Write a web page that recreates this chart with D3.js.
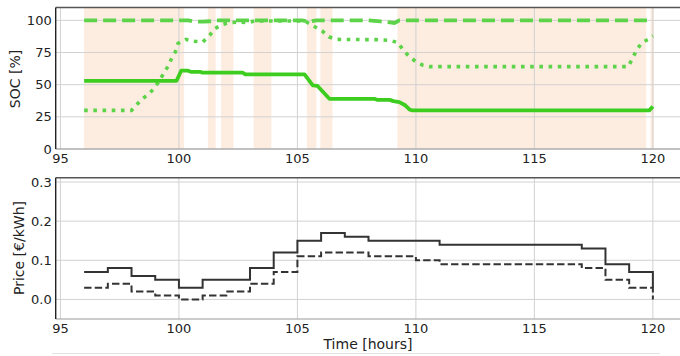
<!DOCTYPE html>
<html>
<head>
<meta charset="utf-8">
<script src="https://cdn.jsdelivr.net/npm/d3@7"></script>
<style>
  html, body { margin: 0; padding: 0; background: #fff; }
  svg { display: block; font-family: "DejaVu Sans", sans-serif; }
</style>
</head>
<body>
<svg id="chart" width="680" height="356"></svg>
<script>
// shaded intervals (hours)
const bandStart = [96.0, 101.22, 101.78, 103.15, 105.4, 105.97, 109.22, 119.9];
const bandEnd   = [100.22, 101.55, 102.3, 103.9, 105.8, 106.48, 119.72, 120.05];

// SOC series: solid
const socTime = [96, 99.9, 100.1, 100.35, 100.5, 100.9, 101.0, 102.7, 102.8, 105.3, 105.65, 105.85, 106.35,
                 108.25, 108.35, 108.9, 109.05, 109.3, 109.55, 109.75, 109.85, 119.85, 120];
const socVal  = [53, 53, 61, 61, 60, 60, 59.3, 59.3, 58, 58, 49.5, 49, 39,
                 39, 38.3, 38.2, 37.2, 36.5, 34, 30.5, 30, 30, 33];

// SOC upper bound: dashed
const maxTime = [96, 100.4, 100.6, 101.0, 101.3, 101.6, 105.2, 105.5, 105.8, 108.0, 108.5, 108.9, 109.1, 109.3, 120];
const maxVal  = [100, 100, 99.2, 99, 99.3, 100, 100, 99, 100, 100, 99.2, 98.5, 98, 100, 100];

// SOC lower bound: dotted
const minTime = [96, 98, 98.13, 98.41, 98.69, 98.93, 99.16, 99.35, 99.54, 99.68, 99.85, 99.96, 100.3, 100.66,
                 101.0, 101.3, 101.5, 101.86, 102.14, 102.5, 102.87, 103.2, 105.2, 105.38, 105.73, 106.05,
                 106.33, 106.65, 108.3, 108.9, 109.25, 109.46, 109.74, 109.99, 110.3, 110.6, 118.96, 119.15,
                 119.31, 119.53, 119.8, 120];
const minVal  = [30, 30, 32.6, 38.3, 42.2, 46.6, 52.6, 58.6, 64.3, 70, 75.5, 82, 85.2, 83.8,
                 83.1, 88.3, 93.5, 96.9, 98.2, 98.7, 98.2, 99.5, 99.5, 98.7, 95, 91.7,
                 87.2, 85.2, 85, 84.5, 82.6, 76.8, 71.6, 68, 65.1, 64, 64, 70.8,
                 76.8, 82.6, 85.2, 88];

// hourly prices
const priceHours = d3.range(96, 121);
const buyPrice  = [0.07, 0.08, 0.06, 0.05, 0.03, 0.05, 0.05, 0.08, 0.12, 0.15, 0.17, 0.16, 0.15,
                   0.15, 0.15, 0.14, 0.14, 0.14, 0.14, 0.14, 0.14, 0.13, 0.09, 0.07, 0.03];
const sellPrice = [0.03, 0.04, 0.02, 0.01, 0.00, 0.01, 0.02, 0.04, 0.07, 0.11, 0.12, 0.12, 0.11,
                   0.11, 0.10, 0.09, 0.09, 0.09, 0.09, 0.09, 0.09, 0.08, 0.05, 0.03, 0.00];

const xTicks = [95, 100, 105, 110, 115, 120];
const socTicks = [0, 25, 50, 75, 100];
const priceTicks = [0.0, 0.1, 0.2, 0.3];

const svg = d3.select('#chart');
const left = 55.7, right = 681.3;
const green = '#3dcd1f', lightGreen = '#5cd348';
const gridColor = '#d2d2d2';

const x = d3.scaleLinear().domain([94.8, 121.2]).range([left, right]);
const ySoc = d3.scaleLinear().domain([0, 110]).range([149, 7.5]);
const yPrice = d3.scaleLinear().domain([-0.05, 0.311]).range([319, 177.7]);

function drawGrid(y, ticks, fmt, top, bottom) {
    const g = svg.append('g');
    // horizontal grid
    g.selectAll('.hg').data(ticks).enter().append('line')
        .attr('x1', left).attr('x2', right)
        .attr('y1', d => y(d)).attr('y2', d => y(d))
        .attr('stroke', gridColor).attr('stroke-width', 1);
    // vertical grid
    g.selectAll('.vg').data(xTicks).enter().append('line')
        .attr('x1', d => x(d)).attr('x2', d => x(d))
        .attr('y1', top).attr('y2', bottom)
        .attr('stroke', gridColor).attr('stroke-width', 1);
    // y tick labels
    g.selectAll('.yl').data(ticks).enter().append('text')
        .attr('x', left - 4).attr('y', d => y(d))
        .attr('text-anchor', 'end').attr('dominant-baseline', 'central')
        .attr('font-size', '13px').attr('fill', '#222')
        .text(fmt);
    // x tick labels
    g.selectAll('.xl').data(xTicks).enter().append('text')
        .attr('x', d => x(d)).attr('y', bottom + 14)
        .attr('text-anchor', 'middle')
        .attr('font-size', '13px').attr('fill', '#222')
        .text(d => d);
}

function drawSpines(top, bottom) {
    svg.append('line').attr('x1', left).attr('x2', right).attr('y1', top).attr('y2', top)
        .attr('stroke', '#555').attr('stroke-width', 1.4);
    svg.append('line').attr('x1', left).attr('x2', right).attr('y1', bottom).attr('y2', bottom)
        .attr('stroke', '#999').attr('stroke-width', 1.2);
    svg.append('line').attr('x1', left).attr('x2', left).attr('y1', top).attr('y2', bottom)
        .attr('stroke', '#222').attr('stroke-width', 1.4);
}

// ---- top panel: SOC ----
svg.append('g').selectAll('rect').data(bandStart).enter().append('rect')
    .attr('x', (d, i) => x(d))
    .attr('width', (d, i) => x(bandEnd[i]) - x(d))
    .attr('y', 7.5).attr('height', 149 - 7.5)
    .attr('fill', '#fdece0');

drawGrid(ySoc, socTicks, d => d, 7.5, 149);

const socLine = d3.line().x(d => x(d[0])).y(d => ySoc(d[1]));

svg.append('path').datum(d3.zip(maxTime, maxVal))
    .attr('d', socLine).attr('fill', 'none')
    .attr('stroke', lightGreen).attr('stroke-width', 3.8)
    .attr('stroke-dasharray', '13,6');

svg.append('path').datum(d3.zip(minTime, minVal))
    .attr('d', socLine).attr('fill', 'none')
    .attr('stroke', lightGreen).attr('stroke-width', 3.6)
    .attr('stroke-dasharray', '3.6,5.6');

svg.append('path').datum(d3.zip(socTime, socVal))
    .attr('d', socLine).attr('fill', 'none')
    .attr('stroke', green).attr('stroke-width', 3.8)
    .attr('stroke-linejoin', 'round');

drawSpines(7.5, 149);

svg.append('text')
    .attr('transform', 'translate(15,79) rotate(-90)')
    .attr('text-anchor', 'middle').attr('dominant-baseline', 'central')
    .attr('font-size', '14px').attr('fill', '#222')
    .text('SOC [%]');

// ---- bottom panel: prices ----
drawGrid(yPrice, priceTicks, d => d.toFixed(1), 177.7, 319);

const priceLine = d3.line().curve(d3.curveStepAfter)
    .x(d => x(d[0])).y(d => yPrice(d[1]));

svg.append('path').datum(d3.zip(priceHours, sellPrice))
    .attr('d', priceLine).attr('fill', 'none')
    .attr('stroke', '#333').attr('stroke-width', 2)
    .attr('stroke-dasharray', '7.4,3.2');

svg.append('path').datum(d3.zip(priceHours, buyPrice))
    .attr('d', priceLine).attr('fill', 'none')
    .attr('stroke', '#333').attr('stroke-width', 2);

drawSpines(177.7, 319);

svg.append('text')
    .attr('transform', 'translate(19,248) rotate(-90)')
    .attr('text-anchor', 'middle').attr('dominant-baseline', 'central')
    .attr('font-size', '14px').attr('fill', '#222')
    .text('Price [€/kWh]');

svg.append('text')
    .attr('x', 368).attr('y', 349)
    .attr('text-anchor', 'middle')
    .attr('font-size', '14px').attr('fill', '#222')
    .text('Time [hours]');

// faint frame edge at the bottom
svg.append('line').attr('x1', 52).attr('x2', 660).attr('y1', 353.5).attr('y2', 353.5)
    .attr('stroke', '#e2e2e2').attr('stroke-width', 1);
</script>
</body>
</html>
